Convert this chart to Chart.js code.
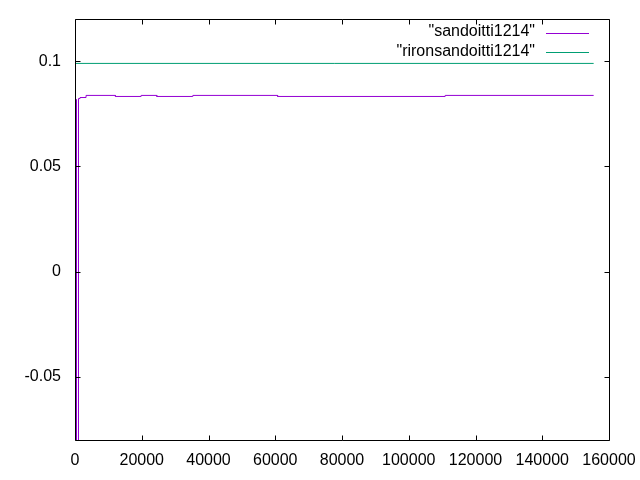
<!DOCTYPE html>
<html>
<head>
<meta charset="utf-8">
<script src="https://cdn.jsdelivr.net/npm/chart.js@4/dist/chart.umd.min.js"></script>
<style>
html,body{margin:0;padding:0;background:#fff;}
#wrap{width:640px;height:480px;}
</style>
</head>
<body>
<div id="wrap"><canvas id="c" width="640" height="480"></canvas></div>
<script>
const seriesNames = ['"sandoitti1214"', '"rironsandoitti1214"'];
const sandoittiX = [450, 450, 460, 1050, 1050, 1500, 1510, 3300, 3310, 12100, 12110, 19800, 19810, 24500, 24510, 35300, 35310, 60700, 60710, 110900, 110910, 155400];
const sandoittiY = [-0.3, 0.0818, -0.3, -0.3, 0.0822, 0.0822, 0.0827, 0.0827, 0.0837, 0.0837, 0.0832, 0.0832, 0.0837, 0.0837, 0.0832, 0.0832, 0.0837, 0.0837, 0.0832, 0.0832, 0.0837, 0.0837];
const rironX = [300, 155400];
const rironY = [0.0989, 0.0989];
const xTicks = [0, 20000, 40000, 60000, 80000, 100000, 120000, 140000, 160000];
const yTicks = [-0.05, 0, 0.05, 0.1];
const colors = ['#9400d3', '#009e73'];

const toPts = (xs, ys) => xs.map((x, i) => ({x: x, y: ys[i]}));
const FONT = 'Liberation Sans, Arial, sans-serif';

const framePlugin = {
  id: 'frame',
  afterDatasetsDraw(chart) {
    const ctx = chart.ctx, a = chart.chartArea;
    const xs = chart.scales.x, ys = chart.scales.y;
    ctx.save();
    ctx.strokeStyle = '#000';
    ctx.lineWidth = 1;
    const L = Math.round(a.left) + 0.5, R = Math.round(a.right) + 0.5;
    const T = Math.round(a.top) + 0.5, B = Math.round(a.bottom) + 0.5;
    ctx.beginPath();
    ctx.rect(L, T, R - L, B - T);
    ctx.stroke();
    const tl = 5;
    ctx.beginPath();
    xTicks.forEach(v => {
      const px = Math.round(xs.getPixelForValue(v)) + 0.5;
      ctx.moveTo(px, B); ctx.lineTo(px, B - tl);
      ctx.moveTo(px, T); ctx.lineTo(px, T + tl);
    });
    yTicks.forEach(v => {
      const py = Math.round(ys.getPixelForValue(v)) + 0.5;
      ctx.moveTo(L, py); ctx.lineTo(L + tl, py);
      ctx.moveTo(R, py); ctx.lineTo(R - tl, py);
    });
    ctx.stroke();
    // legend
    ctx.font = '16px ' + FONT;
    ctx.textAlign = 'right';
    ctx.textBaseline = 'middle';
    ctx.fillStyle = '#000';
    chart.data.datasets.forEach((ds, i) => {
      const y = 32.5 + i * 19.6;
      ctx.fillText(ds.label, 535, y - 1);
      ctx.strokeStyle = ds.borderColor;
      ctx.beginPath();
      ctx.moveTo(546, Math.round(y) + 0.5);
      ctx.lineTo(589, Math.round(y) + 0.5);
      ctx.stroke();
    });
    ctx.restore();
  }
};

const zeroPad = s => { s.paddingLeft = 0; s.paddingRight = 0; s.paddingTop = 0; s.paddingBottom = 0; };

new Chart(document.getElementById('c'), {
  type: 'scatter',
  data: {
    datasets: [
      {label: seriesNames[0], data: toPts(sandoittiX, sandoittiY), showLine: true, borderColor: colors[0], backgroundColor: colors[0], borderWidth: 1, pointRadius: 0, tension: 0},
      {label: seriesNames[1], data: toPts(rironX, rironY), showLine: true, borderColor: colors[1], backgroundColor: colors[1], borderWidth: 1, pointRadius: 0, tension: 0}
    ]
  },
  options: {
    responsive: false,
    animation: false,
    layout: {padding: {top: 19, right: 31, left: 0, bottom: 0}},
    plugins: {legend: {display: false}, tooltip: {enabled: false}},
    scales: {
      x: {
        type: 'linear', min: 0, max: 160000,
        grid: {display: false, drawTicks: false},
        border: {display: false},
        afterBuildTicks: s => { s.ticks = xTicks.map(v => ({value: v})); },
        afterFit: s => { s.height = 40; zeroPad(s); },
        ticks: {padding: 11, color: '#000', font: {family: FONT, size: 16}, maxRotation: 0, autoSkip: false, callback: v => String(v)}
      },
      y: {
        type: 'linear', min: -0.08, max: 0.12,
        grid: {display: false, drawTicks: false},
        border: {display: false},
        afterBuildTicks: s => { s.ticks = yTicks.map(v => ({value: v})); },
        afterFit: s => { s.width = 75; zeroPad(s); },
        ticks: {padding: 14, color: '#000', font: {family: FONT, size: 16}, callback: v => String(Math.round(v * 100) / 100)}
      }
    }
  },
  plugins: [framePlugin]
});
</script>
</body>
</html>
